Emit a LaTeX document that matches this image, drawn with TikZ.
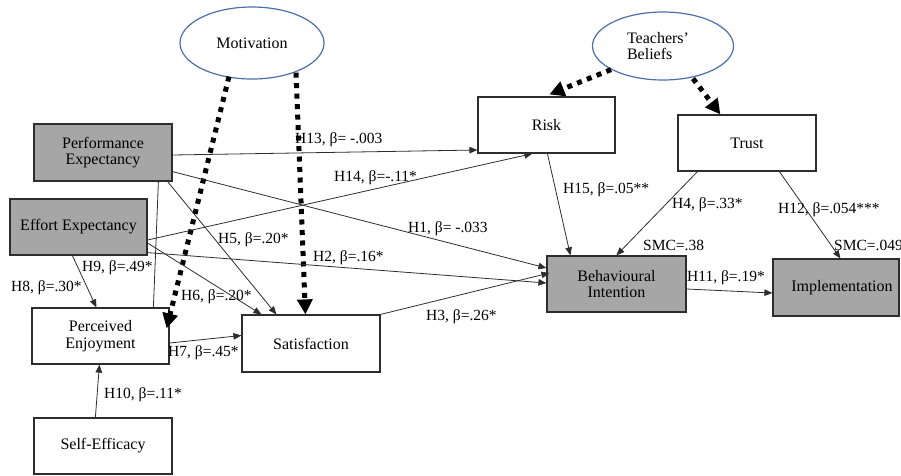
\documentclass[tikz,border=0pt]{standalone}
\usepackage{fontspec}
\setmainfont{Liberation Serif}
\newfontfamily\tnr{Liberation Serif}
\usetikzlibrary{arrows.meta,calc,shapes.geometric}
\definecolor{boxgray}{RGB}{166,166,166}
\definecolor{ellblue}{RGB}{74,111,176}
\definecolor{linegray}{RGB}{45,45,45}
\begin{document}
\begin{tikzpicture}[x=1pt,y=-1pt,
  every node/.style={font=\tnr\fontsize{16}{16.5}\selectfont},
  box/.style={draw=linegray,line width=1.2pt,rectangle,align=center,inner sep=0pt},
  gbox/.style={box,fill=boxgray},
  ell/.style={draw=ellblue,line width=1.2pt,ellipse,inner sep=0pt,align=left},
  lab/.style={anchor=west,inner sep=0pt,font=\tnr\fontsize{15.5}{16}\selectfont},
  conn/.style={draw=linegray,line width=0.8pt,-{Triangle[length=8pt,width=6.5pt]}},
  plain/.style={draw=linegray,line width=0.8pt},
  dotarrow/.style={draw=black,line width=5pt,dash pattern=on 5pt off 5.5pt,
    -{Triangle[length=15pt,width=15pt]}}
]
\useasboundingbox (0,0) rectangle (901,475);
\clip (0,0) rectangle (901,475);

% nodes
\node[ell,minimum width=144pt,minimum height=72pt] (mot) at (252,43) {Motivation};
\node[ell,minimum width=141pt,minimum height=68pt] (tb) at (663,46) {\hspace*{-10pt}Teachers’\\\hspace*{-10pt}Beliefs};
\node[gbox,minimum width=138pt,minimum height=57pt] (pe) at (103,152.5) {Performance\\Expectancy};
\node[gbox,minimum width=137pt,minimum height=56pt] (ee) at (78.5,227) {Effort Expectancy};
\node[box,minimum width=137pt,minimum height=56pt] (risk) at (546.5,125) {Risk};
\node[box,minimum width=138pt,minimum height=56pt] (trust) at (747,143) {Trust};
\node[gbox,minimum width=139pt,minimum height=56pt] (bi) at (616.5,284) {Behavioural\\Intention};
\node[gbox,minimum width=126pt,minimum height=57pt] (impl) at (836,287.5) {\hspace*{12pt}Implementation};
\node[box,minimum width=137pt,minimum height=56pt] (enj) at (100.5,336) {Perceived\\Enjoyment};
\node[box,minimum width=138pt,minimum height=57pt] (sat) at (311,343.5) {Satisfaction};
\node[box,minimum width=138pt,minimum height=56pt] (se) at (103,446) {Self-Efficacy};

% dotted arrows
\draw[dotarrow] ($(mot.south)+(-23,-3)$) -- ($(enj.north east)+(-3,21)$);
\draw[dotarrow] ($(mot.south)+(44,-7)$) -- ($(sat.north west)+(64,0)$);
\draw[dotarrow] ($(tb.south)+(-52,-11)$) -- ($(risk.north west)+(72,-2)$);
\draw[dotarrow] ($(tb.south)+(30,-2)$) -- ($(trust.north west)+(43,0)$);

% connectors
\draw[conn] ($(pe.east)+(0,2.5)$) -- ($(risk.west)+(0,25)$);
\draw[conn] ($(ee.east)+(0,13)$) -- ($(risk.south west)+(55,0)$);
\draw[conn] ($(pe.south east)+(0,-10)$) -- ($(bi.west)+(0,-16)$);
\draw[conn] ($(ee.south east)+(0,-3)$) -- ($(bi.west)+(0,-1)$);
\draw[conn] (sat.north east) -- ($(bi.west)+(3,-11)$);
\draw[conn] ($(trust.south west)+(20,0)$) -- ($(bi.north west)+(70,0)$);
\draw[conn] ($(trust.south west)+(102,0)$) -- ($(impl.north west)+(68,0)$);
\draw[conn] ($(risk.south west)+(70,0)$) -- ($(bi.north west)+(24,0)$);
\draw[conn] ($(bi.east)+(0,5)$) -- ($(impl.west)+(0,5.5)$);
\draw[conn] ($(pe.south east)+(-5,0)$) -- ($(sat.north west)+(35,0)$);
\draw[conn] ($(ee.east)+(0,16)$) -- ($(sat.north west)+(20,0)$);
\draw[conn] ($(enj.east)+(0,7)$) -- ($(sat.west)+(0,-8)$);
\draw[conn] ($(ee.south west)+(63,0)$) -- ($(enj.north west)+(65,0)$);
\draw[plain] ($(enj.north west)+(122,0)$) -- ($(pe.south west)+(125,0)$);
\draw[conn] ($(se.north west)+(62,0)$) -- ($(enj.south west)+(68,0)$);

% labels
\node[lab] (l13) at (295,140) {H13, β= -.003};
\node[lab] (l14) at (334,178) {H14, β=-.11*};
\node[lab] (l1) at (408,229) {H1, β= -.033};
\node[lab] (l2) at (313,258) {H2, β=.16*};
\node[lab] (l3) at (426,317) {H3, β=.26*};
\node[lab] (l4) at (672,205) {H4, β=.33*};
\node[lab] (l12) at (778,210) {H12, β=.054***};
\node[lab] (l15) at (563,190) {H15, β=.05**};
\node[lab] (smc1) at (643,245) {SMC=.38};
\node[lab] (smc2) at (834,245) {SMC=.049};
\node[lab] (l11) at (687,278) {H11, β=.19*};
\node[lab] (l5) at (218,240) {H5, β=.20*};
\node[lab] (l6) at (181,297) {H6, β=.20*};
\node[lab] (l7) at (168,353) {H7, β=.45*};
\node[lab] (l8) at (11,288) {H8, β=.30*};
\node[lab] (l9) at (82,268) {H9, β=.49*};
\node[lab] (l10) at (104,395) {H10, β=.11*};
\end{tikzpicture}
\end{document}
